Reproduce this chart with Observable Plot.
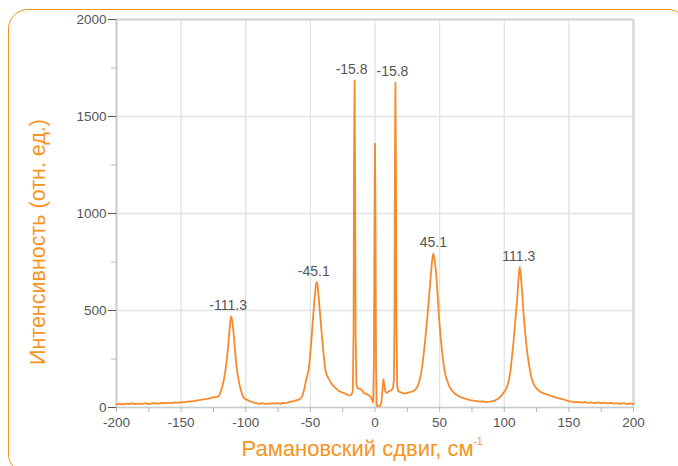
<!DOCTYPE html>
<html>
<head>
<meta charset="utf-8">
<script src="https://cdn.jsdelivr.net/npm/d3@7"></script>
<script src="https://cdn.jsdelivr.net/npm/@observablehq/plot@0.6"></script>
<style>
  html, body { margin: 0; padding: 0; background: #fff; }
  #wrap { position: relative; width: 678px; height: 466px; overflow: hidden; font-family: "Liberation Sans", Arial, sans-serif; }
  #frame { position: absolute; left: 8px; top: 9px; width: 680px; height: 465px; border: 1.5px solid #f7941d; border-radius: 20px; box-sizing: border-box; }
  #chart { position: absolute; left: 0; top: 0; }
  .title { position: absolute; color: #f7941d; line-height: 22px; white-space: nowrap; text-align: center; }
  #xtitle { left: 62px; width: 600px; top: 438px; font-size: 22px; }
  #xtitle .sup { position: relative; top: -11px; font-size: 10px; }
  #ytitle { left: -162px; width: 400px; top: 231px; transform: rotate(-90deg); transform-origin: 200px 11px; font-size: 21.5px; }
</style>
</head>
<body>
<div id="wrap">
  <div id="frame"></div>
  <div id="chart"></div>
  <div id="ytitle" class="title">Интенсивность (отн. ед.)</div>
  <div id="xtitle" class="title">Рамановский сдвиг, см<span class="sup">-1</span></div>
</div>
<script>
// Raman spectrum: [shift (cm^-1), intensity (rel. units)]
const spectrum = [
  [-200,17],[-197.5,19],[-195,16],[-192.5,20],[-190,18],[-187.5,21],[-185,17],[-182.5,20],[-180,19],[-177.5,22],
  [-175,18],[-172.5,21],[-170,23],[-167.5,20],[-165,24],[-162.5,22],[-160,25],[-157.5,23],[-155,26],[-152.5,24],
  [-150,28],[-147.5,27],[-145,30],[-142.5,32],[-140,33],[-137.5,37],[-135,39],[-132.5,42],[-130,44],[-127.5,48],
  [-125,53],[-123,52],[-121.5,57],[-120.5,62],[-119.8,75],[-119,90],[-118,112],[-117,140],[-116,178],[-115,228],
  [-114,290],[-113,365],[-112,440],[-111.3,470],[-110.5,450],[-109.5,390],[-108.5,310],[-107.5,235],[-106.5,180],[-105.5,140],
  [-104.5,108],[-103.5,84],[-102.5,62],[-101.5,50],[-100,42],[-98.5,38],[-97,33],[-95,28],[-93,24],[-91,21],
  [-89,19],[-87,22],[-85,18],[-83,21],[-81,19],[-79,23],[-77,20],[-75,22],[-73,19],[-71,24],
  [-69,22],[-67,27],[-65,30],[-63,33],[-61,37],[-59,40],[-57.5,46],[-56.3,60],[-55.3,80],[-54.5,100],
  [-53.5,135],[-52.5,160],[-51.5,190],[-50.5,245],[-49.5,320],[-48.5,410],[-47.5,500],[-46.5,580],[-45.8,630],[-45.1,646],
  [-44.4,630],[-43.6,570],[-42.6,490],[-41.6,410],[-40.6,335],[-39.6,265],[-38.6,200],[-37.4,168],[-36,150],[-34.5,132],
  [-33,117],[-31.5,106],[-30,97],[-28.5,88],[-27,82],[-25.5,78],[-24,74],[-22.5,70],[-21,64],[-19.5,63],
  [-18.2,66],[-17.2,85],[-16.6,380],[-16.2,1250],[-15.8,1685],[-15.4,1250],[-15,380],[-14.4,120],[-13.5,100],[-12.5,97],
  [-11.2,95],[-10,88],[-8.5,74],[-7,70],[-5.5,66],[-4.4,62],[-3.2,52],[-2.2,38],[-1.4,27],[-0.8,260],
  [-0.4,960],[0,1360],[0.4,920],[0.8,220],[1.3,12],[2,6],[3,8],[4,9],[5,30],[5.8,95],
  [6.5,145],[7.2,118],[8,82],[9,76],[10,80],[11,84],[12,88],[13,92],[13.9,100],[14.6,140],
  [15.1,420],[15.4,1250],[15.8,1675],[16.2,1250],[16.6,400],[17.2,110],[18.2,84],[19.5,79],[21,75],[22.5,72],
  [24,74],[25.5,77],[27,79],[28.5,82],[30,86],[31.5,95],[33,110],[34.3,135],[35.6,173],[36.8,225],
  [38,295],[39,360],[40,430],[41.2,517],[42.3,610],[43.3,690],[44.2,760],[45.1,792],[46,765],[46.9,720],
  [47.8,650],[48.7,550],[49.7,450],[50.8,360],[52,280],[53.2,215],[54.5,168],[56,135],[57.5,108],[59,92],
  [60.5,80],[62.5,68],[64.5,60],[66.5,53],[68.5,48],[71,43],[73.5,38],[76,35],[78.5,33],[81,30],
  [83.5,31],[86,28],[88.5,30],[91,33],[93,37],[95,44],[96.5,52],[98,63],[99.3,74],[100.5,85],
  [101.7,100],[102.8,120],[103.9,150],[105,200],[106,262],[107,330],[108,400],[109,480],[110,560],[110.8,640],
  [111.4,700],[112,723],[112.6,700],[113.2,650],[114,580],[115,480],[116,400],[117,330],[118,272],[119.3,215],
  [120.7,165],[122,132],[123.5,112],[125,98],[126.7,88],[128.4,79],[130.5,73],[132.5,69],[134.5,64],[136.5,60],
  [138.5,55],[140.5,51],[142.5,47],[144.5,43],[146.5,40],[148.5,36],[150.5,32],[152.5,30],[155,27],[157.5,29],
  [160,25],[162.5,28],[165,24],[167.5,27],[170,23],[172.5,26],[175,22],[177.5,25],[180,21],[182.5,24],
  [185,20],[187.5,23],[190,19],[192.5,22],[195,18],[197.5,21],[200,18]
];

// Peak annotations
const peakShift = [-111.3, -45.1, -15.8, 15.8, 45.1, 111.3];
const peakHeight = [470, 646, 1685, 1675, 792, 723];
const peakLabel = ["-111.3", "-45.1", "-15.8", "-15.8", "45.1", "111.3"];

// Ticks
const xTicks = [-200, -150, -100, -50, 0, 50, 100, 150, 200];
const xMinorTicks = [-200, -175, -150, -125, -100, -75, -50, -25, 0, 25, 50, 75, 100, 125, 150, 175, 200];
const yTicks = [0, 500, 1000, 1500, 2000];
const yMinorTicks = [0, 250, 500, 750, 1000, 1250, 1500, 1750, 2000];

const peaks = peakShift.map((x, i) => ({x, y: peakHeight[i], label: peakLabel[i]}));
const negPeaks = peaks.filter(d => d.label.startsWith("-"));
const posPeaks = peaks.filter(d => !d.label.startsWith("-"));
const fmt = d => String(d);

const chart = Plot.plot({
  width: 678,
  height: 466,
  marginLeft: 116,
  marginRight: 45,
  marginTop: 19,
  marginBottom: 59,
  x: {domain: [-200, 200]},
  y: {domain: [0, 2000]},
  style: {fontFamily: "'Liberation Sans', Arial, sans-serif", fontSize: "13.5px", background: "transparent", overflow: "visible"},
  marks: [
    Plot.gridX(xTicks, {stroke: "#dfe3e3", strokeOpacity: 1, strokeWidth: 1.3}),
    Plot.gridY(yTicks, {stroke: "#dfe3e3", strokeOpacity: 1, strokeWidth: 1.3}),
    Plot.ruleY([2000], {stroke: "#d6dbdb", strokeWidth: 2.5}),
    Plot.ruleX([200], {stroke: "#d6dbdb", strokeWidth: 2.5}),
    Plot.ruleX([-200], {stroke: "#c9cccc", strokeWidth: 2}),
    Plot.ruleY([0], {stroke: "#c9cccc", strokeWidth: 1.5}),
    Plot.axisX(xMinorTicks, {tickSize: 5, text: null, color: "#b5b8b8", label: null}),
    Plot.axisX(xTicks, {tickSize: 0, tickPadding: 10, tickFormat: fmt, color: "#555", fontSize: 13.5, label: null}),
    Plot.axisY(yMinorTicks, {tickSize: 5, text: null, color: "#b5b8b8", label: null}),
    Plot.axisY(yTicks, {tickSize: 8, tickPadding: 2, tickFormat: fmt, color: "#555", fontSize: 13.5, label: null}),
    Plot.line(spectrum, {x: d => d[0], y: d => d[1], stroke: "#f68a2c", strokeWidth: 1.8}),
    Plot.text(negPeaks, {x: "x", y: "y", text: "label", dy: -11, dx: -3, fill: "#555", fontSize: 14}),
    Plot.text(posPeaks, {x: "x", y: "y", text: "label", dy: -11, fill: "#555", fontSize: 14})
  ]
});
document.getElementById("chart").appendChild(chart);
</script>
</body>
</html>
